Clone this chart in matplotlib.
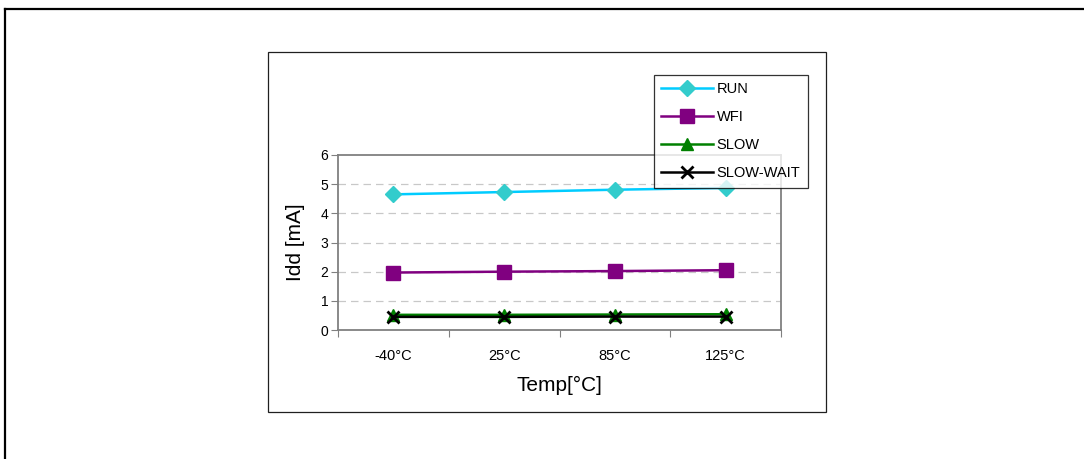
import matplotlib.pyplot as plt
import matplotlib.lines as mlines
import matplotlib.patches as mpatches
import numpy as np

plt.rcParams['font.family'] = ['Liberation Sans', 'DejaVu Sans']

temps = ['-40°C', '25°C', '85°C', '125°C']
run = [4.65, 4.73, 4.81, 4.87]
wfi = [1.97, 2.00, 2.02, 2.05]
slow = [0.52, 0.52, 0.53, 0.54]
slow_wait = [0.45, 0.45, 0.46, 0.46]

W, H = 1084, 459
fig = plt.figure(figsize=(W / 100, H / 100), dpi=100)

# outer frame (only the left and top edges are visible)
fig.add_artist(mlines.Line2D([5 / W, 5 / W], [0, 1 - 9 / H], color='black', lw=1.6))
fig.add_artist(mlines.Line2D([5 / W, 1], [1 - 9 / H, 1 - 9 / H], color='black', lw=1.6))

# chart area box
fig.add_artist(mpatches.Rectangle((268 / W, 1 - 412 / H), 558 / W, 360 / H,
                                  fill=False, edgecolor='#202020', lw=0.9))

ax = fig.add_axes([338 / W, 1 - 330 / H, 443 / W, 175 / H])
x = np.arange(len(temps))

ax.plot(x, run, color='#00CCFF', lw=1.8, marker='D', markersize=8.5,
        markerfacecolor='#33CCCC', markeredgecolor='#33CCCC', label='RUN')
ax.plot(x, wfi, color='#800080', lw=1.8, marker='s', markersize=9.5,
        markerfacecolor='#800080', markeredgecolor='#800080', label='WFI')
ax.plot(x, slow, color='#008000', lw=1.8, marker='^', markersize=9,
        markerfacecolor='#008000', markeredgecolor='#008000', label='SLOW')
ax.plot(x, slow_wait, color='black', lw=1.8, marker='x', markersize=9,
        markeredgewidth=2, label='SLOW-WAIT')

ax.set_xlim(-0.5, 3.5)
ax.set_ylim(0, 6)
ax.set_yticks(range(0, 7))
ax.set_xticks(np.arange(-0.5, 4, 1))
ax.set_xticklabels([])
ax.set_xticks(x, minor=True)
ax.set_xticklabels(temps, minor=True)
ax.tick_params(axis='x', which='major', length=5, color='#808080', direction='out')
ax.tick_params(axis='x', which='minor', length=0, pad=14, labelsize=10.5)
ax.tick_params(axis='y', length=5, color='#808080', labelsize=10, pad=2)

for y in range(1, 6):
    ax.axhline(y, color='#C8C8C8', lw=0.9, dashes=(6, 4), zorder=0)

for s in ax.spines.values():
    s.set_color('#808080')
    s.set_linewidth(1.3)

ax.set_ylabel('Idd [mA]', fontsize=15)
ax.yaxis.set_label_coords(-0.075, 0.5)
ax.set_xlabel('Temp[°C]', fontsize=15)
ax.xaxis.set_label_coords(0.5, -0.26)

leg = ax.legend(loc='upper left', bbox_to_anchor=(654 / W, 1 - 75 / H),
                bbox_transform=fig.transFigure, borderaxespad=0, fontsize=10.5,
                frameon=True, fancybox=False, edgecolor='black',
                handlelength=3.55, handletextpad=0.25, labelspacing=0.96,
                borderpad=0.5)
leg.get_frame().set_linewidth(0.9)
leg.set_zorder(5)

fig.savefig('out.png', dpi=100)
